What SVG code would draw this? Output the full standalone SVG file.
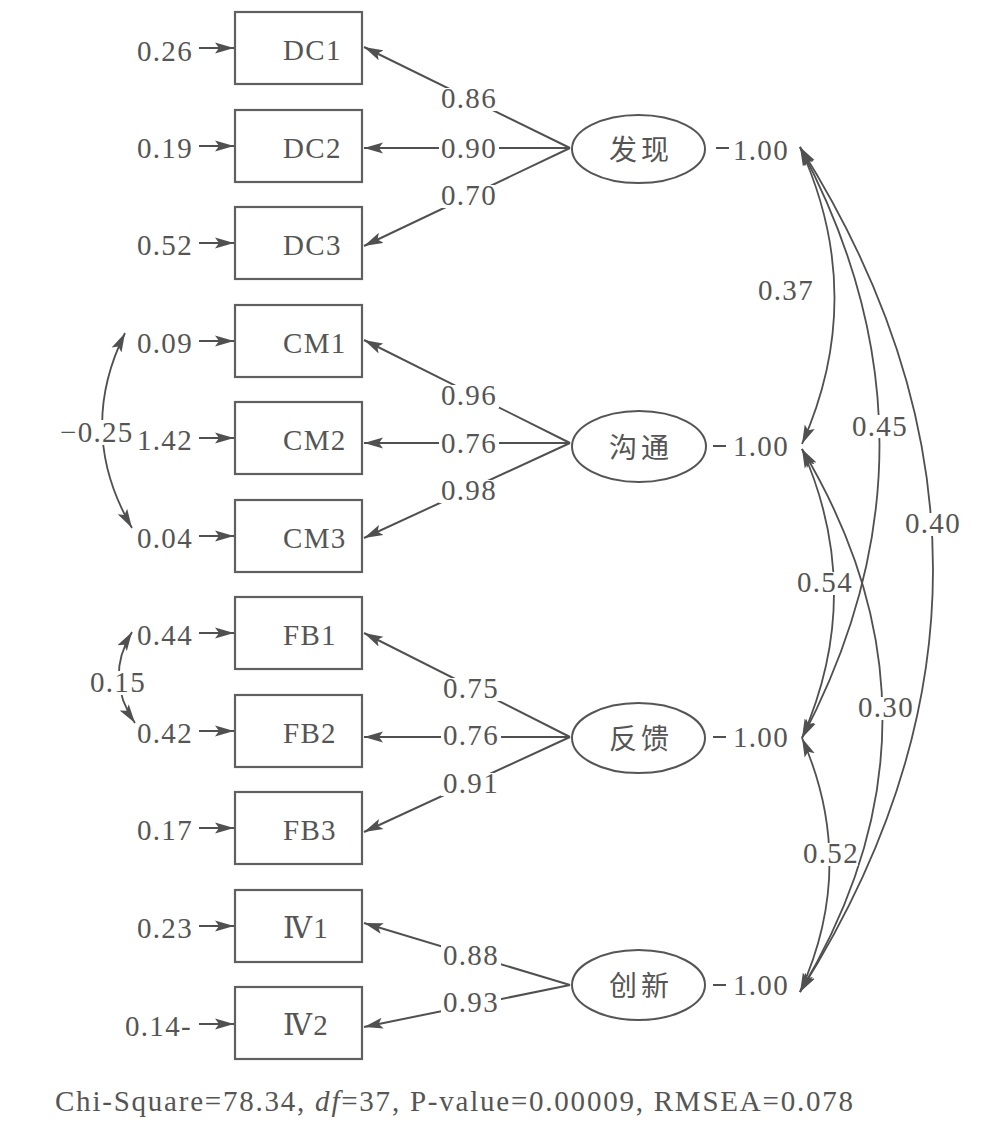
<svg xmlns="http://www.w3.org/2000/svg" width="1005" height="1127" viewBox="0 0 1005 1127">
<style>
  .box{fill:#fff;stroke:#606060;stroke-width:2.2}
  .lat{fill:#fff;stroke:#555;stroke-width:2}
  .t{font-family:"Liberation Serif","DejaVu Serif","Times New Roman",serif;font-size:29px;fill:#555;letter-spacing:1.3px}
  .cj{font-family:"Noto Sans CJK SC","Noto Sans",sans-serif;font-size:28px;fill:#555;letter-spacing:4px;text-anchor:middle}
  .ln{fill:none;stroke:#505050;stroke-width:2}
  .arr{fill:none;stroke:#505050;stroke-width:2;marker-end:url(#ah)}
  .dbl{fill:none;stroke:#505050;stroke-width:1.8;marker-start:url(#ah);marker-end:url(#ah)}
  .bg{fill:#fff}
</style>
<defs>
  <marker id="ah" markerUnits="userSpaceOnUse" markerWidth="20" markerHeight="12" viewBox="0 0 20 12" refX="19" refY="6" orient="auto-start-reverse">
    <path d="M0,0.5 L19,6 L0,11.5 L4,6 Z" fill="#505050"/>
  </marker>
</defs>
<rect width="1005" height="1127" fill="#fff"/>

<g id="connectors">
  <!-- error arrows -->
  <path class="arr" d="M199,48 H234"/>
  <path class="arr" d="M199,146 H234"/>
  <path class="arr" d="M199,243 H234"/>
  <path class="arr" d="M199,341 H234"/>
  <path class="arr" d="M199,438 H234"/>
  <path class="arr" d="M199,536 H234"/>
  <path class="arr" d="M199,633 H234"/>
  <path class="arr" d="M199,731 H234"/>
  <path class="arr" d="M199,828 H234"/>
  <path class="arr" d="M199,926 H234"/>
  <path class="arr" d="M199,1024 H234"/>
  <!-- loadings -->
  <path class="arr" d="M570,148 L364,47"/>
  <path class="arr" d="M570,148 L364,148"/>
  <path class="arr" d="M570,148 L364,246"/>
  <path class="arr" d="M570,443 L364,340"/>
  <path class="arr" d="M570,443 L364,443"/>
  <path class="arr" d="M570,443 L364,538"/>
  <path class="arr" d="M570,737 L364,633"/>
  <path class="arr" d="M570,737 L364,737"/>
  <path class="arr" d="M570,737 L364,832"/>
  <path class="arr" d="M570,985 L364,923"/>
  <path class="arr" d="M570,985 L364,1027"/>
  <!-- latent variance stubs -->
  <path class="ln" d="M716,148 H729" stroke-width="1.6"/>
  <path class="ln" d="M713,446 H726" stroke-width="1.6"/>
  <path class="ln" d="M713,737 H726" stroke-width="1.6"/>
  <path class="ln" d="M713,985 H726" stroke-width="1.6"/>
  <!-- latent covariances -->
  <path class="dbl" d="M800,147 Q868,296 802,444"/>
  <path class="dbl" d="M800,147 Q958,443 802,738"/>
  <path class="dbl" d="M800,147 Q1066,570 800,992"/>
  <path class="dbl" d="M802,449 Q866,593 802,738"/>
  <path class="dbl" d="M802,449 Q964,720 800,992"/>
  <path class="dbl" d="M802,738 Q858,865 800,992"/>
  <!-- error covariances -->
  <path class="dbl" d="M125,333 Q76,432 132,528"/>
  <path class="dbl" d="M132,632 Q104,678 135,723"/>

  <!-- loading labels -->
  <rect class="bg" x="439" y="88" width="60" height="23"/><text class="t" x="441" y="108">0.86</text>
  <rect class="bg" x="439" y="138" width="60" height="23"/><text class="t" x="441" y="158">0.90</text>
  <rect class="bg" x="439" y="185" width="60" height="23"/><text class="t" x="441" y="205">0.70</text>
  <rect class="bg" x="439" y="385" width="60" height="23"/><text class="t" x="441" y="405">0.96</text>
  <rect class="bg" x="439" y="433" width="60" height="23"/><text class="t" x="441" y="453">0.76</text>
  <rect class="bg" x="439" y="480" width="60" height="23"/><text class="t" x="441" y="500">0.98</text>
  <rect class="bg" x="441" y="678" width="60" height="23"/><text class="t" x="443" y="698">0.75</text>
  <rect class="bg" x="441" y="725" width="60" height="23"/><text class="t" x="443" y="745">0.76</text>
  <rect class="bg" x="441" y="773" width="60" height="23"/><text class="t" x="443" y="793">0.91</text>
  <rect class="bg" x="441" y="945" width="60" height="23"/><text class="t" x="443" y="965">0.88</text>
  <rect class="bg" x="441" y="992" width="60" height="23"/><text class="t" x="443" y="1012">0.93</text>

  <!-- error variance labels -->
  <text class="t" x="137" y="61">0.26</text>
  <text class="t" x="137" y="158">0.19</text>
  <text class="t" x="137" y="255">0.52</text>
  <text class="t" x="137" y="353">0.09</text>
  <text class="t" x="137" y="450">1.42</text>
  <text class="t" x="137" y="548">0.04</text>
  <text class="t" x="137" y="645">0.44</text>
  <text class="t" x="137" y="743">0.42</text>
  <text class="t" x="137" y="840">0.17</text>
  <text class="t" x="137" y="938">0.23</text>
  <text class="t" x="125" y="1036">0.14-</text>

  <!-- error covariance labels -->
  <rect class="bg" x="58" y="420" width="74" height="25"/><text class="t" x="60" y="442">−0.25</text>
  <rect class="bg" x="88" y="671" width="58" height="24"/><text class="t" x="90" y="692">0.15</text>

  <!-- latent variance labels -->
  <text class="t" x="733" y="160">1.00</text>
  <text class="t" x="733" y="456">1.00</text>
  <text class="t" x="733" y="747">1.00</text>
  <text class="t" x="733" y="995">1.00</text>

  <!-- latent covariance labels -->
  <text class="t" x="758" y="300">0.37</text>
  <rect class="bg" x="851" y="415" width="58" height="23"/><text class="t" x="852" y="436">0.45</text>
  <rect class="bg" x="904" y="513" width="58" height="23"/><text class="t" x="905" y="533">0.40</text>
  <rect class="bg" x="796" y="572" width="56" height="23"/><text class="t" x="797" y="592">0.54</text>
  <rect class="bg" x="857" y="697" width="56" height="23"/><text class="t" x="858" y="717">0.30</text>
  <rect class="bg" x="802" y="843" width="56" height="23"/><text class="t" x="803" y="863">0.52</text>
</g>

<g id="DC1"><rect class="box" x="235" y="12" width="127" height="72"/><text class="t" x="283" y="60">DC1</text></g>
<g id="DC2"><rect class="box" x="235" y="110" width="127" height="72"/><text class="t" x="283" y="158">DC2</text></g>
<g id="DC3"><rect class="box" x="235" y="207" width="127" height="72"/><text class="t" x="283" y="255">DC3</text></g>
<g id="CM1"><rect class="box" x="235" y="305" width="127" height="72"/><text class="t" x="283" y="353">CM1</text></g>
<g id="CM2"><rect class="box" x="235" y="402" width="127" height="72"/><text class="t" x="283" y="450">CM2</text></g>
<g id="CM3"><rect class="box" x="235" y="500" width="127" height="72"/><text class="t" x="283" y="548">CM3</text></g>
<g id="FB1"><rect class="box" x="235" y="597" width="127" height="72"/><text class="t" x="283" y="645">FB1</text></g>
<g id="FB2"><rect class="box" x="235" y="695" width="127" height="72"/><text class="t" x="283" y="743">FB2</text></g>
<g id="FB3"><rect class="box" x="235" y="792" width="127" height="72"/><text class="t" x="283" y="840">FB3</text></g>
<g id="IV1"><rect class="box" x="235" y="890" width="127" height="72"/><text class="t" x="283" y="938">Ⅳ1</text></g>
<g id="IV2"><rect class="box" x="235" y="987" width="127" height="72"/><text class="t" x="283" y="1035">Ⅳ2</text></g>

<g id="faxian"><ellipse class="lat" cx="638.5" cy="149" rx="66.5" ry="34"/><text class="cj" x="641" y="160">发现</text></g>
<g id="goutong"><ellipse class="lat" cx="639" cy="446.5" rx="67" ry="35.5"/><text class="cj" x="641" y="458">沟通</text></g>
<g id="fankui"><ellipse class="lat" cx="638.5" cy="738" rx="66.5" ry="35"/><text class="cj" x="641" y="749">反馈</text></g>
<g id="chuangxin"><ellipse class="lat" cx="638.5" cy="985" rx="66.5" ry="35"/><text class="cj" x="641" y="996">创新</text></g>

<text class="t" x="55" y="1111" textLength="798" lengthAdjust="spacing" style="letter-spacing:0;font-size:29px">Chi-Square=78.34, <tspan font-style="italic">df</tspan>=37, P-value=0.00009, RMSEA=0.078</text>
</svg>
